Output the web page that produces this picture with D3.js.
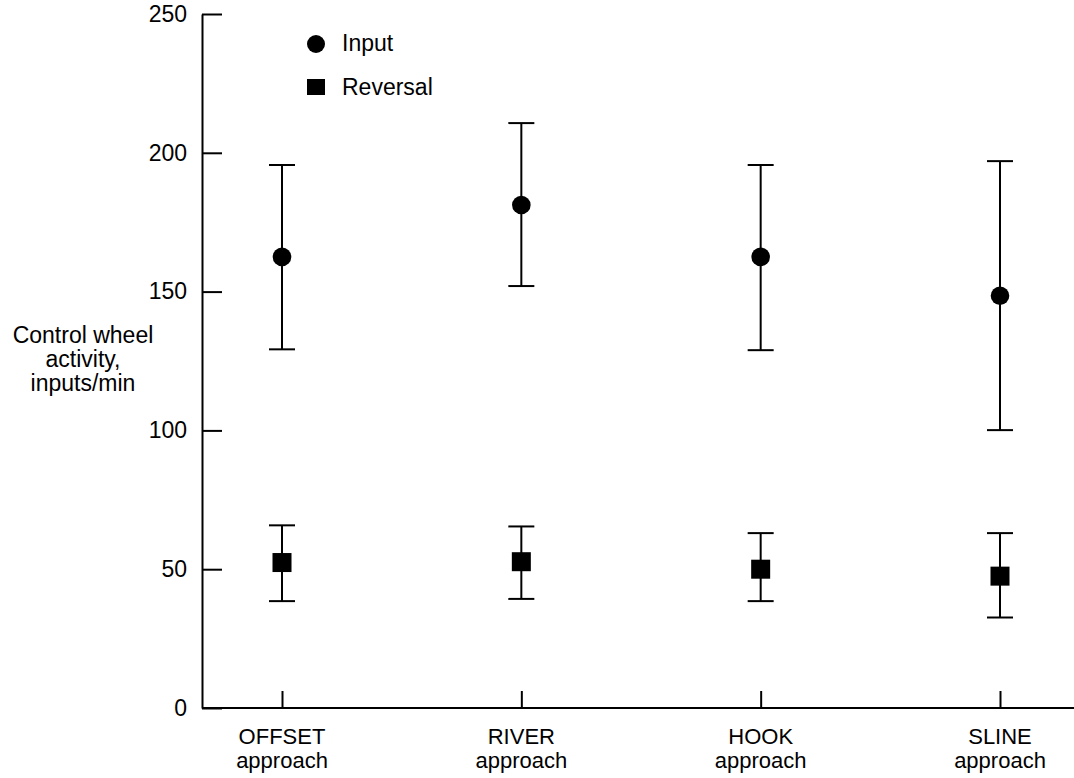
<!DOCTYPE html>
<html>
<head>
<meta charset="utf-8">
<script src="https://cdn.jsdelivr.net/npm/d3@7"></script>
<style>
  body { margin: 0; background: #fff; }
  svg text { font-family: "Liberation Sans", Arial, sans-serif; fill: #000; }
</style>
</head>
<body>
<div id="chart"></div>
<script>
// categories and values
var approaches = ["OFFSET", "RIVER", "HOOK", "SLINE"];
var inputMean = [162.5, 181.2, 162.5, 148.5];
var inputHigh = [195.6, 210.7, 195.6, 197.0];
var inputLow  = [129.2, 152.0, 128.9, 100.1];
var reversalMean = [52.4, 52.7, 50.0, 47.5];
var reversalHigh = [65.8, 65.4, 63.0, 63.0];
var reversalLow  = [38.5, 39.3, 38.5, 32.6];
var yTicks = [0, 50, 100, 150, 200, 250];

var W = 1074, H = 778;
var margin = {top: 14, right: 0, bottom: 70, left: 202},
    width = W - margin.left - margin.right,
    height = H - margin.top - margin.bottom;
var fs = "23px";

var svg = d3.select("#chart").append("svg")
    .attr("width", W)
    .attr("height", H);

var g = svg.append("g")
    .attr("transform", "translate(" + margin.left + "," + margin.top + ")");

var x = d3.scalePoint().domain(approaches).range([80, 798]);
var y = d3.scaleLinear().domain([0, 250]).range([height, 0]);

// y axis, ticks point inward
var yAxis = g.append("g")
  .call(d3.axisLeft(y).tickValues(yTicks).tickSizeInner(-20).tickSizeOuter(0).tickPadding(15));
yAxis.selectAll("text").style("font-size", fs);

// x axis
var xAxis = g.append("g")
  .attr("transform", "translate(0," + height + ")")
  .call(d3.axisBottom(x).tickSizeInner(-17).tickSizeOuter(0).tickFormat(""));
xAxis.select(".domain").attr("d", "M0,0H" + width);

g.selectAll(".domain, .tick line")
  .attr("stroke", "#000")
  .attr("stroke-width", 2);

// two-line category labels
var xl = g.selectAll(".xlab").data(approaches).enter().append("text")
  .attr("class", "xlab")
  .attr("text-anchor", "middle")
  .style("font-size", "22px")
  .attr("transform", function(d) { return "translate(" + x(d) + "," + (height + 36) + ")"; });
xl.append("tspan").attr("x", 0).attr("y", 0).text(function(d) { return d; });
xl.append("tspan").attr("x", 0).attr("y", 24).text("approach");

// y axis title
var yt = svg.append("text")
  .attr("text-anchor", "middle")
  .style("font-size", fs);
["Control wheel", "activity,", "inputs/min"].forEach(function(s, i) {
  yt.append("tspan").attr("x", 83).attr("y", 343 + i * 24).text(s);
});

// error bars
function errorBars(mean, hi, lo) {
  var data = approaches.map(function(a, i) { return {a: a, m: mean[i], hi: hi[i], lo: lo[i]}; });
  var eb = g.append("g").selectAll("g").data(data).enter().append("g");
  eb.append("line")
    .attr("x1", function(d) { return x(d.a); })
    .attr("x2", function(d) { return x(d.a); })
    .attr("y1", function(d) { return y(d.hi); })
    .attr("y2", function(d) { return y(d.lo); });
  eb.append("line")
    .attr("x1", function(d) { return x(d.a) - 13; })
    .attr("x2", function(d) { return x(d.a) + 13; })
    .attr("y1", function(d) { return y(d.hi); })
    .attr("y2", function(d) { return y(d.hi); });
  eb.append("line")
    .attr("x1", function(d) { return x(d.a) - 13; })
    .attr("x2", function(d) { return x(d.a) + 13; })
    .attr("y1", function(d) { return y(d.lo); })
    .attr("y2", function(d) { return y(d.lo); });
  eb.selectAll("line").attr("stroke", "#000").attr("stroke-width", 2);
  return data;
}

var inData = errorBars(inputMean, inputHigh, inputLow);
var revData = errorBars(reversalMean, reversalHigh, reversalLow);

g.selectAll(".inpt").data(inData).enter().append("circle")
  .attr("class", "inpt")
  .attr("cx", function(d) { return x(d.a); })
  .attr("cy", function(d) { return y(d.m); })
  .attr("r", 9.3)
  .attr("fill", "#000");

g.selectAll(".rev").data(revData).enter().append("rect")
  .attr("class", "rev")
  .attr("x", function(d) { return x(d.a) - 9.5; })
  .attr("y", function(d) { return y(d.m) - 9.5; })
  .attr("width", 19)
  .attr("height", 19)
  .attr("fill", "#000");

// legend
var leg = svg.append("g");
leg.append("circle").attr("cx", 316).attr("cy", 44).attr("r", 9).attr("fill", "#000");
leg.append("text").attr("x", 342).attr("y", 51).style("font-size", fs).text("Input");
leg.append("rect").attr("x", 307).attr("y", 79).attr("width", 18).attr("height", 16).attr("fill", "#000");
leg.append("text").attr("x", 342).attr("y", 95).style("font-size", fs).text("Reversal");
</script>
</body>
</html>
